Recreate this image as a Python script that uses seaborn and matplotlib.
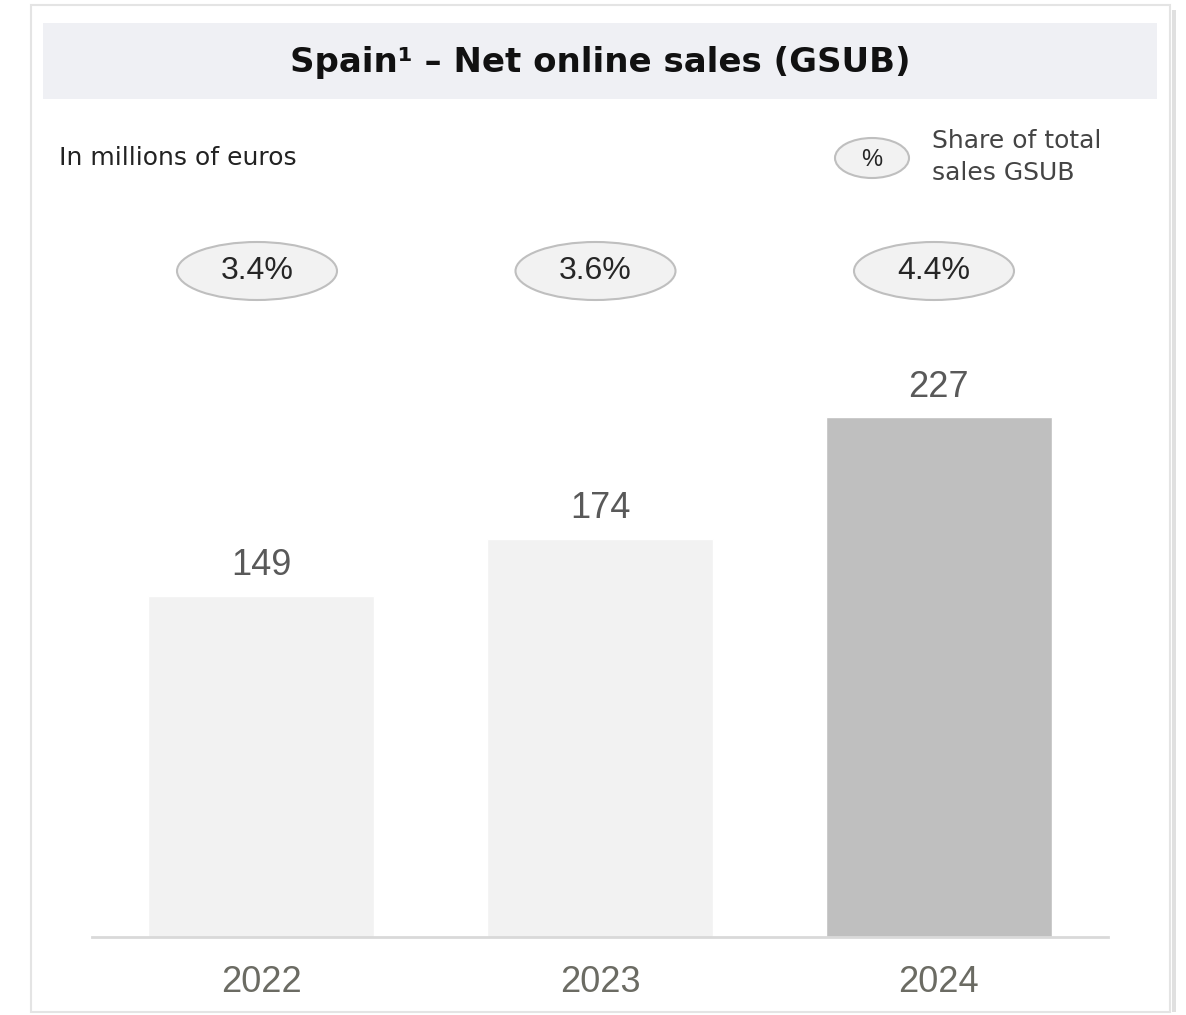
import matplotlib
matplotlib.use("Agg")
import matplotlib.pyplot as plt
import seaborn as sns
import pandas as pd
from matplotlib.patches import Ellipse, Rectangle

# Data
years = ["2022", "2023", "2024"]
sales = [149, 174, 227]
share_labels = ["3.4%", "3.6%", "4.4%"]
bar_colors = ["#f2f2f2", "#f2f2f2", "#bfbfbf"]

df = pd.DataFrame({"year": years, "sales": sales})

sns.set_theme(style="white")
plt.rcParams["font.family"] = ["DejaVu Sans"]

W, H = 1186, 1015
fig = plt.figure(figsize=(W / 100, H / 100), dpi=100)
fig.patch.set_facecolor("white")

def fx(px):
    return px / W

def fy(py):
    return 1 - py / H

# Card border and title band
fig.add_artist(Rectangle((fx(31), fy(1012)), fx(1170) - fx(31), fy(5) - fy(1012),
                         transform=fig.transFigure, facecolor="none",
                         edgecolor="#e4e4e4", linewidth=1.5))
fig.add_artist(Rectangle((fx(1172), fy(1012)), fx(4), fy(10) - fy(1012),
                         transform=fig.transFigure, facecolor="#e0e0e0",
                         edgecolor="none"))
fig.add_artist(Rectangle((fx(43), fy(99)), fx(1157) - fx(43), fy(23) - fy(99),
                         transform=fig.transFigure, facecolor="#eff0f4",
                         edgecolor="none"))
fig.text(fx(600), fy(62), "Spain¹ – Net online sales (GSUB)", ha="center", va="center",
         fontsize=24.5, fontweight="bold", color="#111111")

fig.text(fx(59), fy(158), "In millions of euros", ha="left", va="center",
         fontsize=18, color="#222222")

# Legend marker
fig.add_artist(Ellipse((fx(872), fy(158)), fx(74), 40 / H, transform=fig.transFigure,
                       facecolor="#f2f2f2", edgecolor="#bfbfbf", linewidth=1.5))
fig.text(fx(872), fy(160), "%", ha="center", va="center", fontsize=17,
         family="Liberation Sans", color="#262626")
fig.text(fx(932), fy(157), "Share of total\nsales GSUB", ha="left", va="center",
         fontsize=18, color="#444444", linespacing=1.4)

# Bar chart
ax_bottom, ax_top = 937, 200
ax = fig.add_axes([fx(92), fy(ax_bottom), fx(1108) - fx(92), fy(ax_top) - fy(ax_bottom)])
sns.barplot(data=df, x="year", y="sales", hue="year", palette=bar_colors,
            width=0.667, legend=False, ax=ax, saturation=1)
ax.set_xlim(-0.5, 2.5)
ax.set_ylim(0, (ax_bottom - ax_top) / 2.289)
ax.set_facecolor("none")
for s in ["top", "right", "left"]:
    ax.spines[s].set_visible(False)
ax.spines["bottom"].set_color("#d9d9d9")
ax.spines["bottom"].set_linewidth(2)
ax.set_yticks([])
ax.set_xlabel("")
ax.set_ylabel("")
ax.tick_params(axis="x", length=0, pad=20, labelsize=26, labelcolor="#6b6b63")
for lbl in ax.get_xticklabels():
    lbl.set_fontfamily("Liberation Sans")

for i, v in enumerate(sales):
    ax.annotate(str(v), (i, v), xytext=(0, 9), textcoords="offset points",
                ha="center", va="bottom", fontsize=26, color="#595959",
                family="Liberation Sans")

# Share-of-sales bubbles
for i, lab in enumerate(share_labels):
    cx = 261 + 338.5 * i - 4
    fig.add_artist(Ellipse((fx(cx), fy(271)), fx(160), 58 / H, transform=fig.transFigure,
                           facecolor="#f2f2f2", edgecolor="#bfbfbf", linewidth=1.5))
    fig.text(fx(cx), fy(271), lab, ha="center", va="center", fontsize=23,
             family="Liberation Sans", color="#262626")

fig.savefig("out.png", dpi=100)
